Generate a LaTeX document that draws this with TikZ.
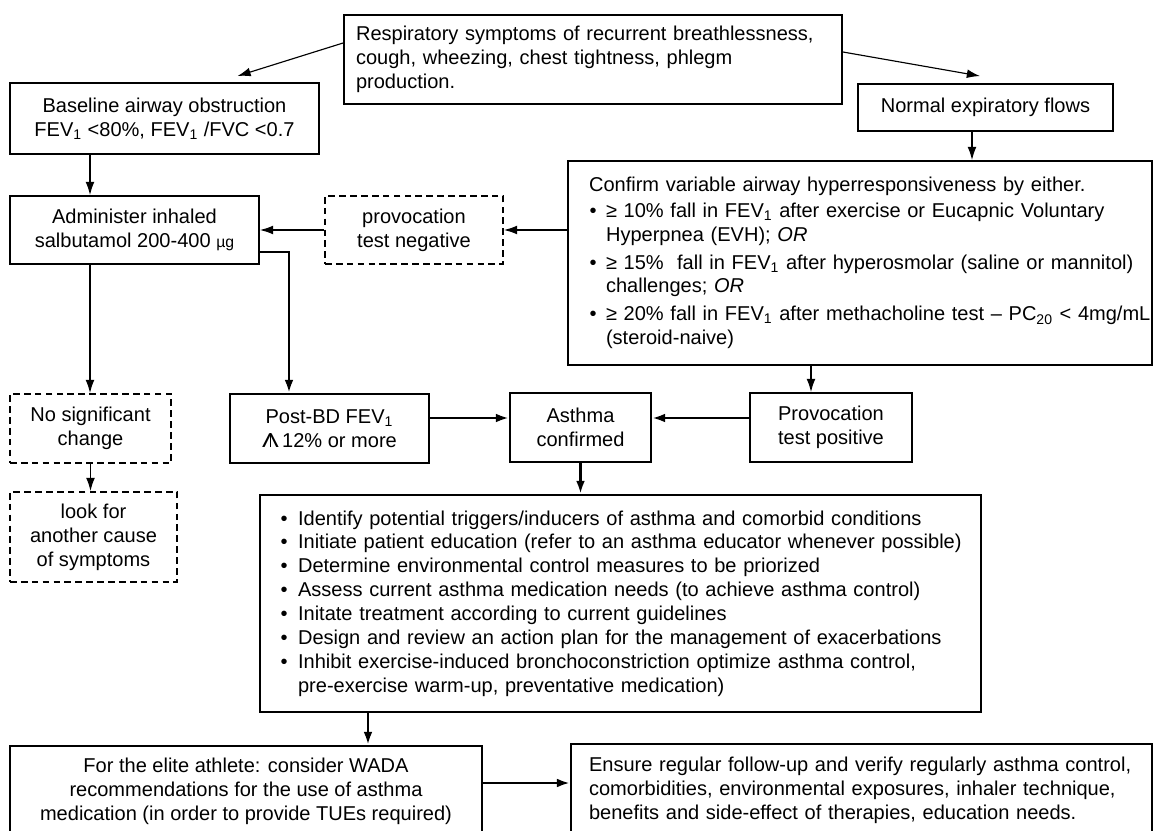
\documentclass[tikz,border=0pt]{standalone}
\usepackage{fontspec}
\setmainfont{Liberation Sans}
\usetikzlibrary{arrows.meta}
\newcommand{\bul}[2]{\hspace*{#1}\makebox[#2][l]{•}}
\newcommand{\uparr}{\mbox{\ooalign{\scalebox{1.25}[1]{Λ}\cr\hfil\rule{0.45pt}{0.72em}\hfil\cr}}\,}

\begin{document}
\begin{tikzpicture}[x=0.02cm, y=-0.02cm,
        font=\fontsize{11.4}{13.6}\selectfont,
        box/.style={draw=black, line width=1.1pt, inner sep=0pt, align=center},
        dbox/.style={box, dash pattern=on 3.8pt off 2.4pt},
        >={Latex[length=7.5pt,width=5pt]},
        thinarr/.style={black, line width=0.65pt, ->},
        thickarr/.style={black, line width=1.7pt, ->}]
        \useasboundingbox (0,0) rectangle (1154,831);

        % top row
        \node[box, minimum width=9.96cm, minimum height=1.78cm, text width=9.48cm, inner xsep=0.24cm, align=left] (top) at (593,59.5)
            {Respiratory symptoms of recurrent breathlessness,\\ cough, wheezing, chest tightness, phlegm\\ production.};
        \node[box, minimum width=6.18cm, minimum height=1.42cm] (base) at (164.5,118.5)
            {Baseline airway obstruction\\ FEV\textsubscript{1} <80\%, FEV\textsubscript{1} /FVC <0.7};
        \node[box, minimum width=5.10cm, minimum height=0.94cm] (normal) at (985.5,107.5) {Normal expiratory flows};

        \node[box, minimum height=4.08cm, text width=11.68cm, align=left] (confirm) at (860,263)
            {\hspace*{0.42cm}Confirm variable airway hyperresponsiveness by either.\\[1pt]
             \bul{0.43cm}{0.33cm}≥ 10\% fall in FEV\textsubscript{1} after exercise or Eucapnic Voluntary\\
             \hspace*{0.76cm}Hyperpnea (EVH); \textit{OR}\\[2.3pt]
             \bul{0.43cm}{0.33cm}≥ 15\%\ \ fall in FEV\textsubscript{1} after hyperosmolar (saline or mannitol)\\
             \hspace*{0.76cm}challenges; \textit{OR}\\[2.3pt]
             \bul{0.43cm}{0.33cm}≥ 20\% fall in FEV\textsubscript{1} after methacholine test – PC\textsubscript{20} < 4mg/mL\\
             \hspace*{0.76cm}(steroid-naive)};

        % middle rows
        \node[box, minimum width=4.98cm, minimum height=1.36cm] (admin) at (134.5,230)
            {Administer inhaled\\ salbutamol 200-400 {\small µg}};
        \node[dbox, minimum width=3.56cm, minimum height=1.36cm] (neg) at (414,230) {provocation\\ test negative};
        \node[dbox, minimum width=3.22cm, minimum height=1.38cm] (nosig) at (90.5,428.5) {No significant\\ change};
        \node[dbox, minimum width=3.34cm, minimum height=1.80cm] (lookfor) at (93.5,537) {look for\\ another cause\\ of symptoms};
        \node[box, minimum width=3.98cm, minimum height=1.38cm] (post) at (329.5,428.5)
            {Post-BD FEV\textsubscript{1}\\ \uparr12\% or more};
        \node[box, minimum width=2.82cm, minimum height=1.38cm] (asthma) at (580.5,427.5) {Asthma\\ confirmed};
        \node[box, minimum width=3.24cm, minimum height=1.38cm] (pos) at (831,427.5) {Provocation\\ test positive};

        \node[box, minimum height=4.34cm, text width=14.42cm, align=left] (list) at (620.5,603.5)
            {\bul{0.41cm}{0.35cm}Identify potential triggers/inducers of asthma and comorbid conditions\\
             \bul{0.41cm}{0.35cm}Initiate patient education (refer to an asthma educator whenever possible)\\
             \bul{0.41cm}{0.35cm}Determine environmental control measures to be priorized\\
             \bul{0.41cm}{0.35cm}Assess current asthma medication needs (to achieve asthma control)\\
             \bul{0.41cm}{0.35cm}Initate treatment according to current guidelines\\
             \bul{0.41cm}{0.35cm}Design and review an action plan for the management of exacerbations\\
             \bul{0.41cm}{0.35cm}Inhibit exercise-induced bronchoconstriction optimize asthma control,\\
             \hspace*{0.76cm}pre-exercise warm-up, preventative medication)};

        % bottom row
        \node[box, minimum width=9.44cm, minimum height=1.80cm] (elite) at (246,791)
            {For the elite athlete: consider WADA\\ recommendations for the use of asthma\\ medication (in order to provide TUEs required)};
        \node[box, minimum height=1.84cm, text width=10.9cm, inner xsep=0.36cm, align=left] (ensure) at (861.5,790)
            {Ensure regular follow-up and verify regularly asthma control,\\ comorbidities, environmental exposures, inhaler technique,\\ benefits and side-effect of therapies, education needs.};

        % connectors
        \draw[thinarr] (top.west |- 0,43) -- ([xshift=1.46cm,yshift=0.12cm]base.north);
        \draw[thinarr] (top.east |- 0,52) -- ([xshift=-0.11cm,yshift=0.14cm]normal.north);
        \draw[thinarr] (base.south -| 90,0) -- (admin.north -| 90,0);
        \draw[thinarr] (normal.south -| 972,0) -- (confirm.north -| 972,0);
        \draw[thinarr] (confirm.west |- neg.east) -- (neg.east);
        \draw[thinarr] (neg.west) -- (admin.east);
        \draw[thickarr] (admin.east |- 0,252) -| (post.north -| 289,0);
        \draw[thinarr] (admin.south -| 90,0) -- (nosig.north -| 90,0);
        \draw[thinarr] (nosig.south) -- (nosig.south |- lookfor.north);
        \draw[thickarr] (post.east |- 0,418) -- (asthma.west |- 0,418);
        \draw[thickarr] (pos.west |- 0,418) -- (asthma.east |- 0,418);
        \draw[thinarr] (confirm.south -| 811,0) -- (pos.north -| 811,0);
        \draw[thickarr] (asthma.south) -- (asthma.south |- list.north);
        \draw[thickarr] (list.south -| 368,0) -- (elite.north -| 368,0);
        \draw[thickarr] (elite.east |- 0,783) -- (ensure.west |- 0,783);
    \end{tikzpicture}
\end{document}
